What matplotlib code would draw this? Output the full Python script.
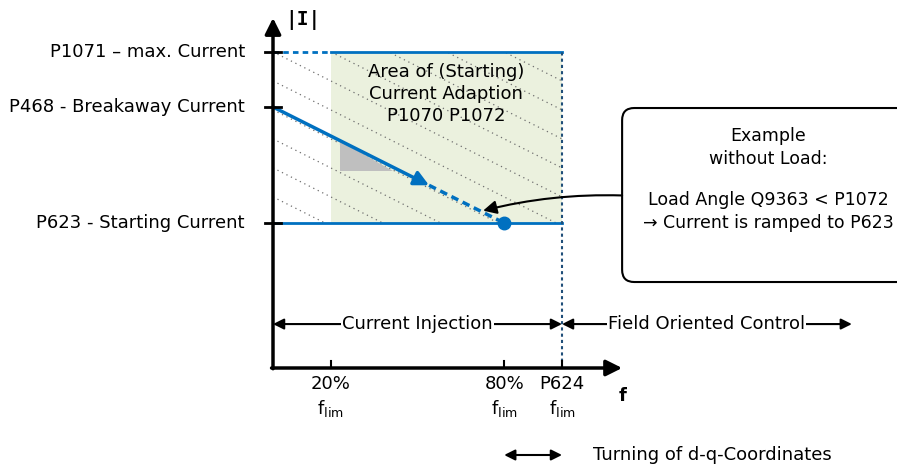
#!/usr/bin/env python3

"""
Current adaption diagram: |I| over f
"""
import numpy as np
import matplotlib.pyplot as plt
from matplotlib.patches import Rectangle, Polygon, FancyBboxPatch

# current levels (relative to starting current)
level_names = ['P1071 – max. Current', 'P468 - Breakaway Current', 'P623 - Starting Current']
level_values = [2.18, 1.8, 1.0]

# frequency ticks (fraction of f_lim)
f_ticks = [0.2, 0.8, 1.0]
f_tick_labels = ['20%', '80%', 'P624']

# current ramp: breakaway -> starting current
ramp_f = [0.0, 0.54, 0.8]
ramp_I = [1.8, 1.26, 1.0]

blue = '#0070c0'
dark_blue = '#1f4e79'
FS = 13

i_max, i_break, i_start = level_values
f_20, f_80, f_lim = f_ticks

fig = plt.figure(figsize=(8.97, 4.65), dpi=100)
ax = fig.add_axes([0, 0, 1, 1])
# 289 px per f unit, 145 px per current unit, origin at pixel (273, 368)
ax.set_xlim(-273 / 289, (897 - 273) / 289)
ax.set_ylim(-97 / 145, 368 / 145)
ax.axis('off')

#green adaption area
ax.add_patch(Rectangle((f_20, i_start), f_lim - f_20, i_max - i_start,
                       facecolor='#ebf1de', edgecolor='none', zorder=1))

#dotted hatching over whole area
clip = Rectangle((0, i_start), f_lim, i_max - i_start, transform=ax.transData)
for c in np.arange(1.18, 3.3, 0.2):
    ln, = ax.plot([0, f_lim], [c, c - f_lim], color='#6f6f6f', lw=0.9,
                  ls=(0, (1, 3)), zorder=2)
    ln.set_clip_path(clip)

#gray triangle under ramp
ax.add_patch(Polygon([(0.232, 1.568), (0.232, 1.359), (0.415, 1.359)],
                     closed=True, facecolor='#bfbfbf', edgecolor='none', zorder=3))

#limit lines
ax.plot([0, f_20], [i_max, i_max], color=blue, lw=2, ls=(0, (2, 1.5)), zorder=4)
ax.plot([f_20, f_lim], [i_max, i_max], color=blue, lw=2, zorder=4)
ax.plot([0, f_lim], [i_start, i_start], color=blue, lw=2, zorder=4)
ax.plot([f_lim, f_lim], [0, i_max], color=dark_blue, lw=1.5, ls=(0, (1.5, 1.5)), zorder=4)

#ramp
ax.annotate('', xy=(ramp_f[1], ramp_I[1]), xytext=(ramp_f[0], ramp_I[0]),
            arrowprops=dict(arrowstyle='-|>', color=blue, lw=2.5, mutation_scale=22,
                            shrinkA=0, shrinkB=0), zorder=5)
ax.plot(ramp_f[1:], ramp_I[1:], color=blue, lw=2.5, ls=(0, (2.2, 1.4)), zorder=5)
ax.plot(ramp_f[2], ramp_I[2], 'o', color=blue, ms=9, zorder=6)

#axes with arrows
ax.annotate('', xy=(0, 2.414), xytext=(0, -0.005),
            arrowprops=dict(arrowstyle='-|>', color='black', lw=2.5, mutation_scale=24,
                            shrinkA=0, shrinkB=0), zorder=7)
ax.annotate('', xy=(1.208, 0), xytext=(-0.005, 0),
            arrowprops=dict(arrowstyle='-|>', color='black', lw=2.5, mutation_scale=24,
                            shrinkA=0, shrinkB=0), zorder=7)
ax.text(0.104, 2.40, '|I|', fontsize=14, fontweight='bold', family='DejaVu Sans Mono',
        ha='center', va='center')
ax.text(1.208, -0.19, 'f', fontsize=13, fontweight='bold', ha='center', va='center')

#y ticks and labels
for name, val in zip(level_names, level_values):
    ax.plot([-0.028, 0.028], [val, val], color='black', lw=2, zorder=7)
    ax.text(-0.097, val, name, fontsize=FS, ha='right', va='center')

#x ticks and labels
for pos, lab in zip(f_ticks, f_tick_labels):
    ax.plot([pos, pos], [0, 0.05], color='black', lw=1.5, zorder=7)
    ax.text(pos, -0.11, lab, fontsize=FS, ha='center', va='center')
    ax.text(pos, -0.28, r'f$_{\mathregular{lim}}$', fontsize=FS, ha='center', va='center')

#area text
ax.text(0.599, 1.89, 'Area of (Starting)\nCurrent Adaption\nP1070 P1072', fontsize=FS,
        ha='center', va='center', linespacing=1.3, zorder=8)

#ranges
span_y = 0.303
two_way = dict(arrowstyle='<|-|>', color='black', lw=1.5, mutation_scale=16,
               shrinkA=0, shrinkB=0)
ax.annotate('', xy=(0, span_y), xytext=(f_lim, span_y), arrowprops=two_way)
ax.annotate('', xy=(f_lim, span_y), xytext=(2.003, span_y), arrowprops=two_way)
ax.text(0.5, span_y, 'Current Injection', fontsize=FS, ha='center', va='center',
        bbox=dict(facecolor='white', edgecolor='none', pad=0.5))
ax.text(1.5, span_y, 'Field Oriented Control', fontsize=FS, ha='center', va='center',
        bbox=dict(facecolor='white', edgecolor='none', pad=0.5))

#turning of d-q
ax.annotate('', xy=(f_80, -0.6), xytext=(f_lim, -0.6), arrowprops=two_way)
ax.text(1.107, -0.6, 'Turning of d-q-Coordinates', fontsize=FS, ha='left', va='center')

#example box
box = FancyBboxPatch((1.208, 0.593), 1.0, 1.2,
                     boxstyle='round,pad=0,rounding_size=0.042', mutation_aspect=2.0,
                     facecolor='white', edgecolor='black', lw=1.5, zorder=8)
ax.add_patch(box)
ax.text(1.713, 1.52, 'Example\nwithout Load:', fontsize=12.5, ha='center', va='center',
        linespacing=1.35, zorder=9)
ax.text(1.713, 1.08, 'Load Angle Q9363 < P1072\n→ Current is ramped to P623',
        fontsize=12.5, ha='center', va='center', linespacing=1.35, zorder=9)
ax.annotate('', xy=(0.727, 1.085), xytext=(1.208, 1.19),
            arrowprops=dict(arrowstyle='-|>', color='black', lw=1.5, mutation_scale=20,
                            shrinkA=0, shrinkB=0, connectionstyle='arc3,rad=0.07'),
            zorder=9)

plt.savefig('out.png', dpi=100)
